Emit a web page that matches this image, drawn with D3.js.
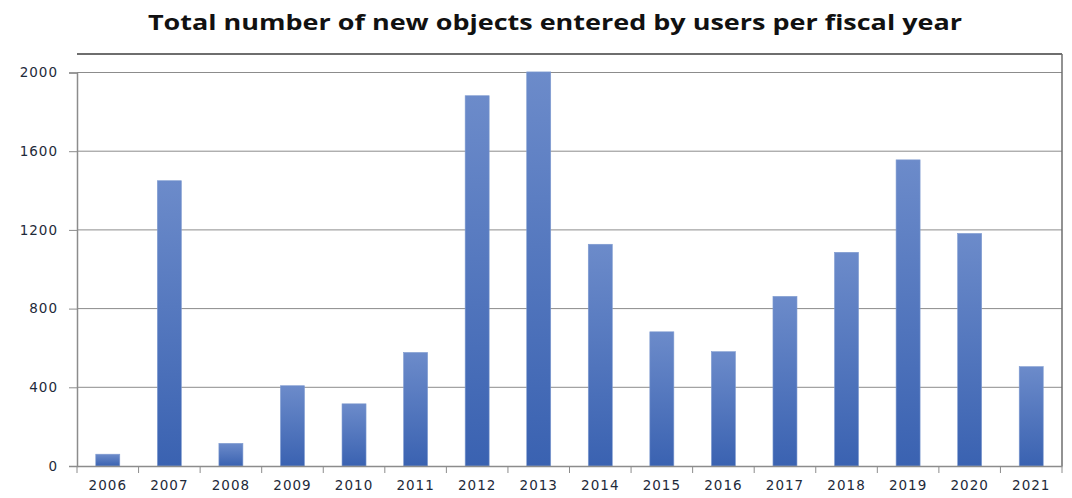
<!DOCTYPE html>
<html>
<head>
<meta charset="utf-8">
<script src="https://cdn.jsdelivr.net/npm/d3@7/dist/d3.min.js"></script>
<style>
  body { margin: 0; background: #fff; }
  svg { display: block; }
</style>
</head>
<body>
<script>
// chart data
var years = ["2006","2007","2008","2009","2010","2011","2012","2013","2014","2015","2016","2017","2018","2019","2020","2021"];
var newObjects = [60, 1450, 115, 408, 316, 577, 1882, 2003, 1127, 682, 581, 862, 1086, 1556, 1182, 505];
var yTicks = [0, 400, 800, 1200, 1600, 2000];
var title = "Total number of new objects entered by users per fiscal year";

var W = 1072, H = 498;
var margin = {top: 54, right: 10, bottom: 32, left: 77};
var width = W - margin.left - margin.right,
    height = H - margin.top - margin.bottom;

var svg = d3.select("body").append("svg")
    .attr("width", W)
    .attr("height", H);

var defs = svg.append("defs");
var grad = defs.append("linearGradient")
    .attr("id", "barGrad")
    .attr("x1", 0).attr("y1", 0).attr("x2", 0).attr("y2", 1);
grad.append("stop").attr("offset", "0%").attr("stop-color", "#6c8bca");
grad.append("stop").attr("offset", "100%").attr("stop-color", "#3a62b1");

svg.append("text")
    .attr("x", 148)
    .attr("y", 30)
    .attr("textLength", 814)
    .attr("lengthAdjust", "spacingAndGlyphs")
    .style("font-family", "'Open Sans', sans-serif")
    .style("font-weight", "bold")
    .style("font-size", "20.5px")
    .attr("fill", "#111")
    .text(title);

var g = svg.append("g")
    .attr("transform", "translate(" + margin.left + "," + margin.top + ")");

var x = d3.scaleBand()
    .domain(years)
    .range([0, width])
    .paddingInner(0.61)
    .paddingOuter(0.305);

var y = d3.scaleLinear()
    .domain([0, 2000])
    .range([height, 18.5]);

// gridlines
g.selectAll(".grid")
    .data(yTicks.filter(function(d){ return d > 0; }))
    .enter()
    .append("line")
    .attr("x1", 0).attr("x2", width)
    .attr("y1", function(d){ return y(d); })
    .attr("y2", function(d){ return y(d); })
    .attr("stroke", "#8c8c8c")
    .attr("stroke-width", 1);

// plot frame top and right
g.append("line").attr("x1", 0).attr("x2", width).attr("y1", 0).attr("y2", 0)
    .attr("stroke", "#6e6e6e").attr("stroke-width", 2);
g.append("line").attr("x1", width).attr("x2", width).attr("y1", 0).attr("y2", height)
    .attr("stroke", "#6e6e6e").attr("stroke-width", 1.5);

g.selectAll(".bar")
    .data(newObjects)
    .enter()
    .append("rect")
    .attr("x", function(d, i){ return x(years[i]); })
    .attr("y", function(d){ return y(d); })
    .attr("width", x.bandwidth())
    .attr("height", function(d){ return height - y(d); })
    .attr("fill", "url(#barGrad)")
    .attr("stroke", "#7f9bd0")
    .attr("stroke-width", 0.6);

var yAxis = d3.axisLeft(y).tickValues(yTicks).tickFormat(d3.format("d")).tickSize(8).tickPadding(11);
var yG = g.append("g").call(yAxis);

var xAxis = d3.axisBottom(x).tickSize(0).tickPadding(14);
var xG = g.append("g").attr("transform", "translate(0," + height + ")").call(xAxis);

// tick marks between categories
var bounds = d3.range(years.length + 1).map(function(i){ return i * x.step(); });
xG.selectAll(".bound")
    .data(bounds)
    .enter()
    .append("line")
    .attr("x1", function(d){ return d; }).attr("x2", function(d){ return d; })
    .attr("y1", 0).attr("y2", 7)
    .attr("stroke", "#8c8c8c");

[yG, xG].forEach(function(a){
    a.select(".domain").attr("stroke", "#8c8c8c").attr("stroke-width", 1.5);
    a.selectAll(".tick line").attr("stroke", "#8c8c8c");
    a.selectAll("text")
        .style("font-family", "'DejaVu Sans', sans-serif")
        .style("font-size", "13.5px")
        .style("letter-spacing", "1px")
        .attr("fill", "#1e2a3a");
});
</script>
</body>
</html>
